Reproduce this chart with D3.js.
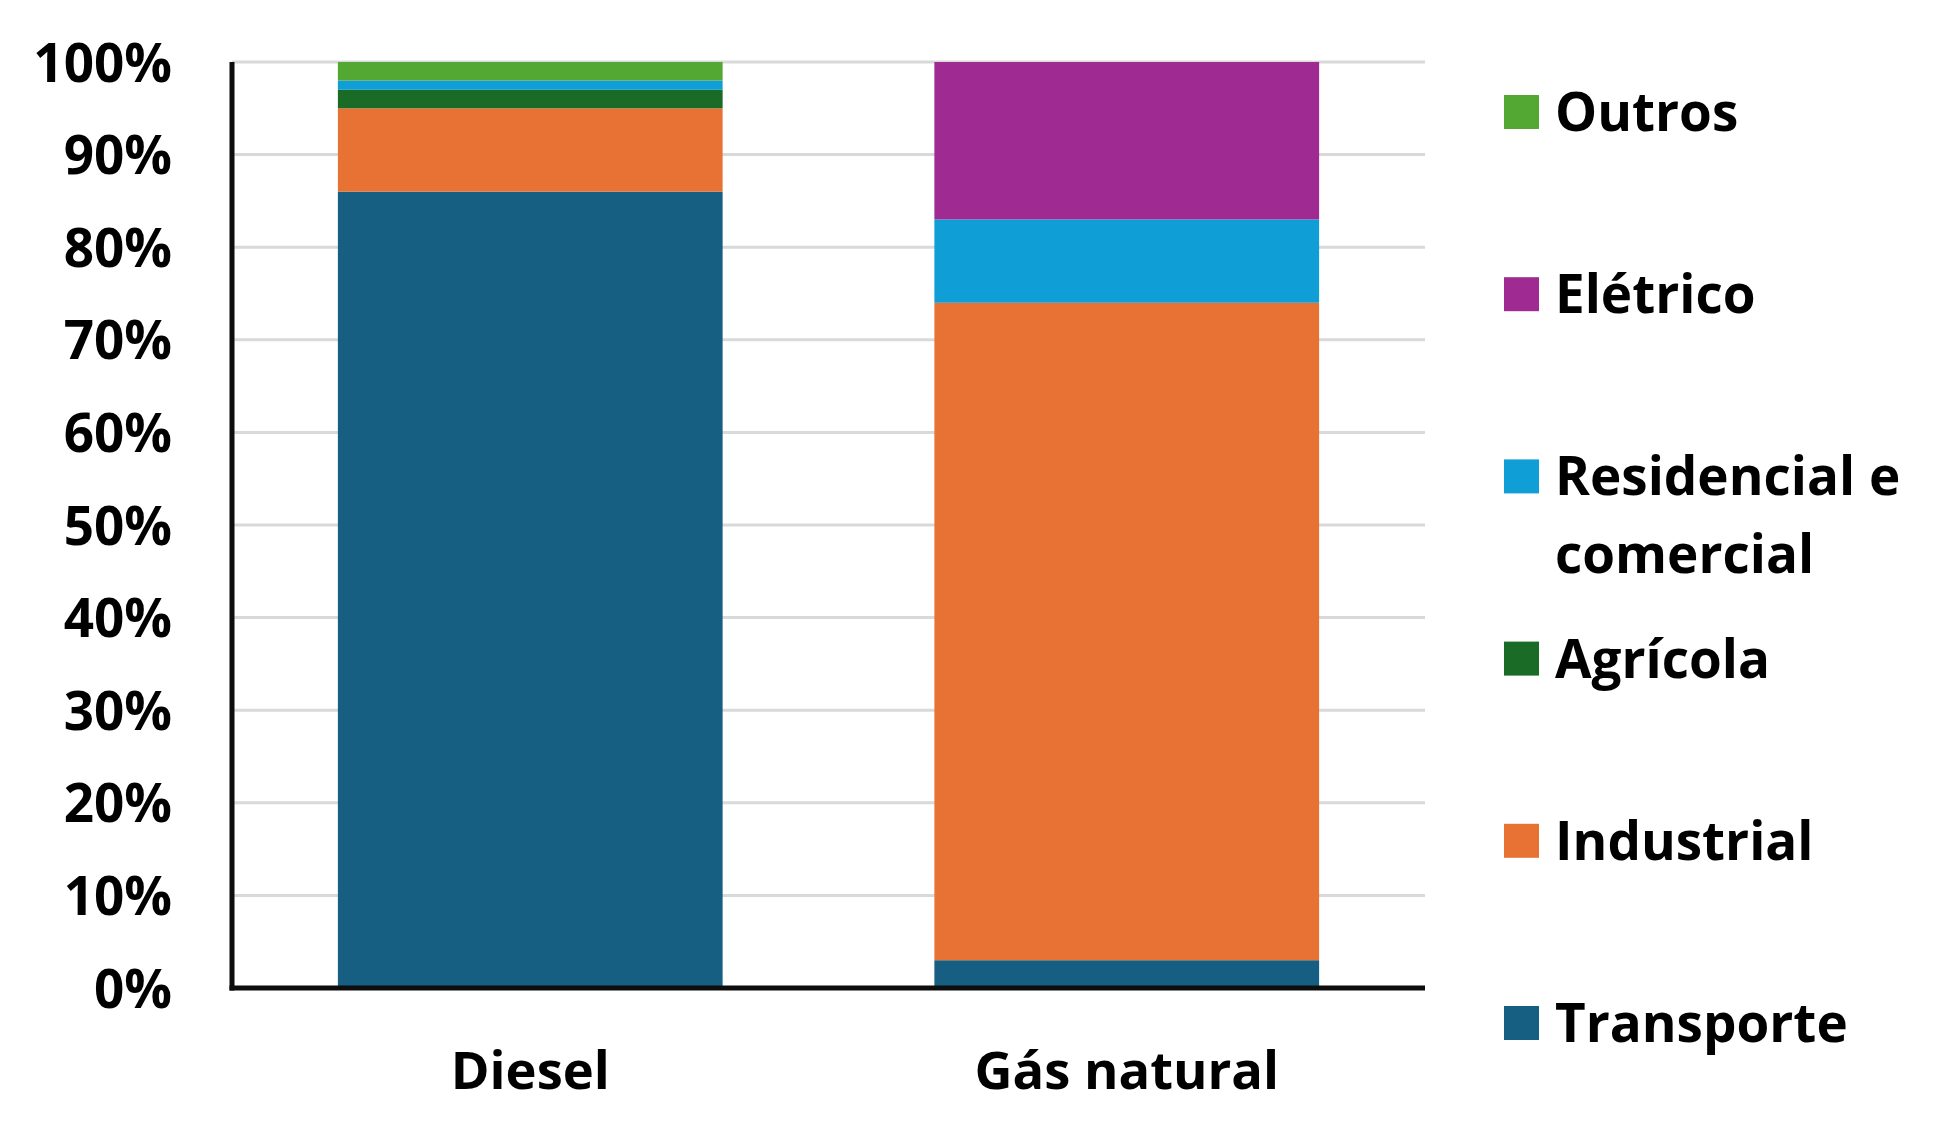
<!DOCTYPE html>
<html><head><meta charset="utf-8">
<script src="https://cdn.jsdelivr.net/npm/d3@7"></script>
<style>
html,body{margin:0;padding:0;background:#fff;}
svg text{font-family:"Open Sans",Lato,sans-serif;font-weight:700;fill:#000;}
</style></head>
<body>
<svg id="chart" width="1949" height="1137"></svg>
<script>
const categories = ["Diesel", "Gás natural"];
const seriesNames = ["Transporte", "Industrial", "Agrícola", "Residencial e comercial", "Elétrico", "Outros"];
const transporte = [86, 3];
const industrial = [9, 71];
const agricola = [2, 0];
const residencial = [1, 9];
const eletrico = [0, 17];
const outros = [2, 0];
const yTicks = [0, 10, 20, 30, 40, 50, 60, 70, 80, 90, 100];
const colors = ["#175F82", "#E87233", "#1A6B25", "#109ED7", "#9F2B92", "#52A832"];
const legendLines = [["Outros"], ["Elétrico"], ["Residencial e", "comercial"], ["Agrícola"], ["Industrial"], ["Transporte"]];

const seriesValues = [transporte, industrial, agricola, residencial, eletrico, outros];
const table = categories.map((c, i) => {
  const row = {category: c};
  seriesNames.forEach((s, j) => row[s] = seriesValues[j][i]);
  return row;
});

const svg = d3.select("#chart");
const pLeft = 232, pRight = 1425, pTop = 62, pBottom = 988;

const x = d3.scaleBand().domain(categories).range([pLeft, pRight]).paddingInner(0.355).paddingOuter(0.1775);
const y = d3.scaleLinear().domain([0, 100]).range([pBottom, pTop]);

// gridlines
svg.append("g").selectAll("line").data(yTicks.filter(t => t > 0)).join("line")
  .attr("x1", pLeft).attr("x2", pRight)
  .attr("y1", d => y(d)).attr("y2", d => y(d))
  .attr("stroke", "#d9d9d9").attr("stroke-width", 3);

// stacked bars
const stack = d3.stack().keys(seriesNames)(table);
svg.append("g").selectAll("g").data(stack).join("g")
  .attr("fill", (d, i) => colors[i])
  .selectAll("rect").data(d => d).join("rect")
  .attr("x", d => x(d.data.category))
  .attr("width", x.bandwidth())
  .attr("y", d => y(d[1]))
  .attr("height", d => Math.max(0, y(d[0]) - y(d[1])));

// y axis
const yAxis = d3.axisLeft(y).tickValues(yTicks).tickFormat(d => d + "%").tickSize(0).tickPadding(60);
const gy = svg.append("g").attr("transform", `translate(${pLeft},0)`).call(yAxis);
gy.select(".domain").remove();
gy.selectAll("text").style("font-size", "53px").attr("dy", "0.36em");
svg.append("line").attr("x1", pLeft).attr("x2", pLeft).attr("y1", pTop).attr("y2", pBottom + 2.5)
  .attr("stroke", "#0d0d0d").attr("stroke-width", 5);

// x axis
const xAxis = d3.axisBottom(x).tickSize(0).tickPadding(82);
const gx = svg.append("g").attr("transform", `translate(0,${pBottom})`).call(xAxis);
gx.select(".domain").remove();
gx.selectAll("text").style("font-size", "52.5px").attr("dy", "0.36em");
svg.append("line").attr("x1", pLeft - 2.5).attr("x2", pRight).attr("y1", pBottom).attr("y2", pBottom)
  .attr("stroke", "#0d0d0d").attr("stroke-width", 5);

// legend
const legendColors = colors.slice().reverse();
const lg = svg.append("g");
const ly = d3.scalePoint().domain(d3.range(6)).range([112, 1023]);
legendLines.forEach((lines, i) => {
  const cy = ly(i);
  lg.append("rect").attr("x", 1504).attr("y", cy - 17).attr("width", 35).attr("height", 34).attr("fill", legendColors[i]);
  const t = lg.append("text").attr("x", 1555).attr("y", cy).style("font-size", "53px");
  lines.forEach((ln, k) => t.append("tspan").attr("x", 1555).attr("dy", k === 0 ? "0.36em" : "78px").text(ln));
});
</script>
</body></html>
